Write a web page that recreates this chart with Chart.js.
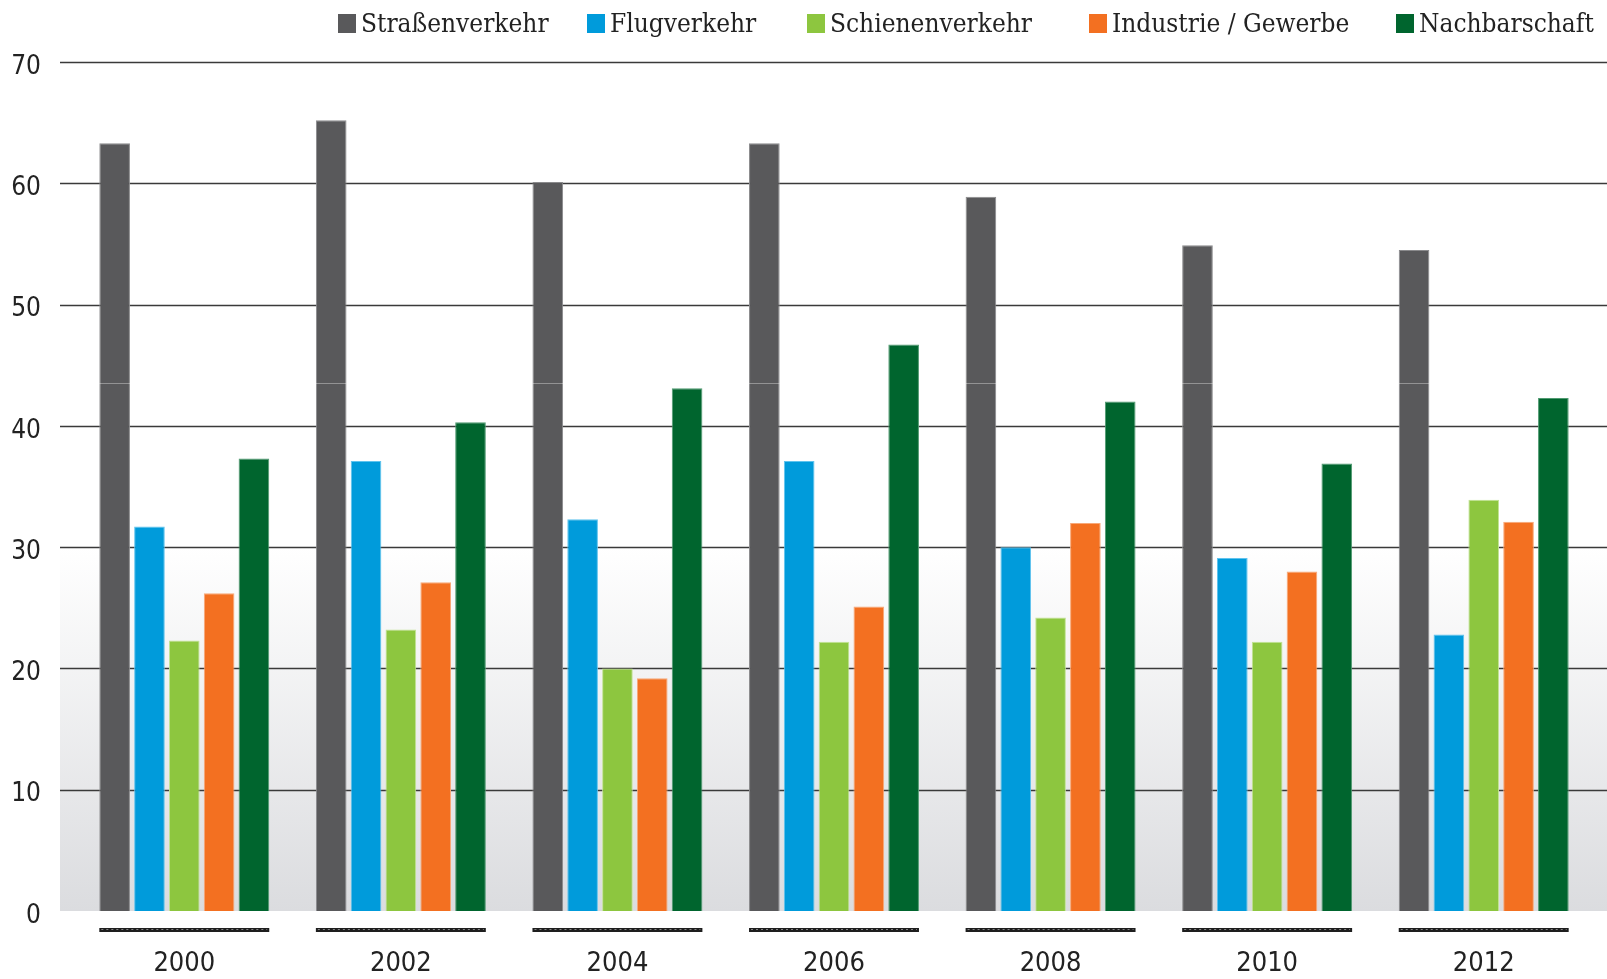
<!DOCTYPE html>
<html>
<head>
<meta charset="utf-8">
<script src="https://cdn.jsdelivr.net/npm/chart.js@4/dist/chart.umd.min.js"></script>
<style>
  html, body { margin: 0; padding: 0; background: #fff; }
  #wrap { position: relative; width: 1607px; height: 979px; }
  #legend { position: absolute; top: 0; left: 0; width: 1607px; height: 45px; font-family: "DejaVu Serif Condensed", "DejaVu Serif", serif; font-size: 26px; color: #222; }
  .item { position: absolute; top: 8px; display: flex; align-items: center; white-space: nowrap; }
  .box { width: 18px; height: 19px; margin-right: 5px; }
</style>
</head>
<body>
<div id="wrap">
  <canvas id="chart" width="1607" height="979"></canvas>
  <div id="legend"></div>
</div>
<script>
const years = ['2000', '2002', '2004', '2006', '2008', '2010', '2012'];
const strassen = [63.3, 65.2, 60.1, 63.3, 58.9, 54.9, 54.5];
const flug = [31.7, 37.1, 32.3, 37.1, 30.0, 29.1, 22.8];
const schiene = [22.3, 23.2, 20.0, 22.2, 24.2, 22.2, 33.9];
const industrie = [26.2, 27.1, 19.2, 25.1, 32.0, 28.0, 32.1];
const nachbar = [37.3, 40.3, 43.1, 46.7, 42.0, 36.9, 42.3];
const yTicks = [0, 10, 20, 30, 40, 50, 60, 70];

const seriesNames = ['Straßenverkehr', 'Flugverkehr', 'Schienenverkehr', 'Industrie / Gewerbe', 'Nachbarschaft'];
const seriesColors = ['#59595b', '#009bdb', '#8dc63f', '#f37021', '#00652e'];
const seriesEdges = ['#8a8a8c', '#5fc3ee', '#c2e394', '#f8a878', '#4f9a70'];
const legendLeft = [338, 587, 807, 1089, 1396];

const allSeries = [strassen, flug, schiene, industrie, nachbar];

// legend (positions follow the original artwork, spacing is uneven there)
document.getElementById('legend').innerHTML = seriesNames.map((n, i) =>
  `<div class="item" style="left:${legendLeft[i]}px"><span class="box" style="background:${seriesColors[i]}"></span><span>${n}</span></div>`).join('');

const backdrop = {
  id: 'backdrop',
  beforeDatasetsDraw(chart) {
    const { ctx, scales: { y } } = chart;
    const left = 60, right = chart.width;
    const top = y.getPixelForValue(30), bottom = y.getPixelForValue(0);
    ctx.save();
    const g = ctx.createLinearGradient(0, top, 0, bottom);
    g.addColorStop(0, '#ffffff');
    g.addColorStop(1, '#dbdcdf');
    ctx.fillStyle = g;
    ctx.fillRect(left, top, right - left, bottom - top);
    ctx.strokeStyle = '#3a3a3a';
    ctx.lineWidth = 1.6;
    yTicks.filter(v => v > 0).forEach(v => {
      const py = Math.round(y.getPixelForValue(v)) + 0.5;
      ctx.beginPath();
      ctx.moveTo(left, py);
      ctx.lineTo(right, py);
      ctx.stroke();
    });
    ctx.restore();
  },
  afterDatasetsDraw(chart) {
    const { ctx, scales: { y } } = chart;
    const first = chart.getDatasetMeta(0).data;
    const last = chart.getDatasetMeta(allSeries.length - 1).data;
    ctx.save();
    // faint seam across the road-traffic bars
    const seam = Math.round(y.getPixelForValue(43.5)) + 0.5;
    ctx.strokeStyle = 'rgba(255,255,255,0.35)';
    ctx.lineWidth = 1;
    first.forEach(b => {
      ctx.beginPath();
      ctx.moveTo(b.x - b.width / 2, seam);
      ctx.lineTo(b.x + b.width / 2, seam);
      ctx.stroke();
    });
    // hatched rule under each year group
    const ry = y.getPixelForValue(0) + 19;
    first.forEach((b, i) => {
      const x0 = b.x - b.width / 2, x1 = last[i].x + last[i].width / 2;
      ctx.strokeStyle = '#1e1e1e';
      ctx.lineWidth = 4;
      ctx.setLineDash([]);
      ctx.beginPath(); ctx.moveTo(x0, ry); ctx.lineTo(x1, ry); ctx.stroke();
      ctx.strokeStyle = 'rgba(255,255,255,0.45)';
      ctx.lineWidth = 1;
      ctx.setLineDash([2, 3]);
      ctx.beginPath(); ctx.moveTo(x0 + 2, ry - 0.5); ctx.lineTo(x1 - 2, ry - 0.5); ctx.stroke();
    });
    ctx.restore();
  }
};

new Chart(document.getElementById('chart'), {
  type: 'bar',
  data: {
    labels: years,
    datasets: allSeries.map((d, i) => ({
      label: seriesNames[i],
      data: d,
      backgroundColor: seriesColors[i],
      borderColor: seriesEdges[i],
      borderWidth: 1,
      categoryPercentage: 0.804,
      barPercentage: 0.88
    }))
  },
  options: {
    responsive: false,
    animation: false,
    layout: { padding: { top: 62, right: 15, bottom: 0, left: 0 } },
    plugins: { legend: { display: false }, tooltip: { enabled: false } },
    scales: {
      x: {
        grid: { display: false, drawTicks: false },
        border: { display: false },
        ticks: { color: '#222', padding: 37, font: { family: '"Liberation Sans Narrow", "DejaVu Sans Condensed", sans-serif', size: 27 } },
        afterFit(s) { s.height = 68; }
      },
      y: {
        min: 0, max: 70,
        grid: { display: false, drawTicks: false },
        border: { display: false },
        ticks: { stepSize: 10, color: '#222', padding: 35, labelOffset: 5, font: { family: '"Liberation Sans Narrow", "DejaVu Sans Condensed", sans-serif', size: 26 } },
        afterFit(s) { s.width = 76; }
      }
    }
  },
  plugins: [backdrop]
});
</script>
</body>
</html>
